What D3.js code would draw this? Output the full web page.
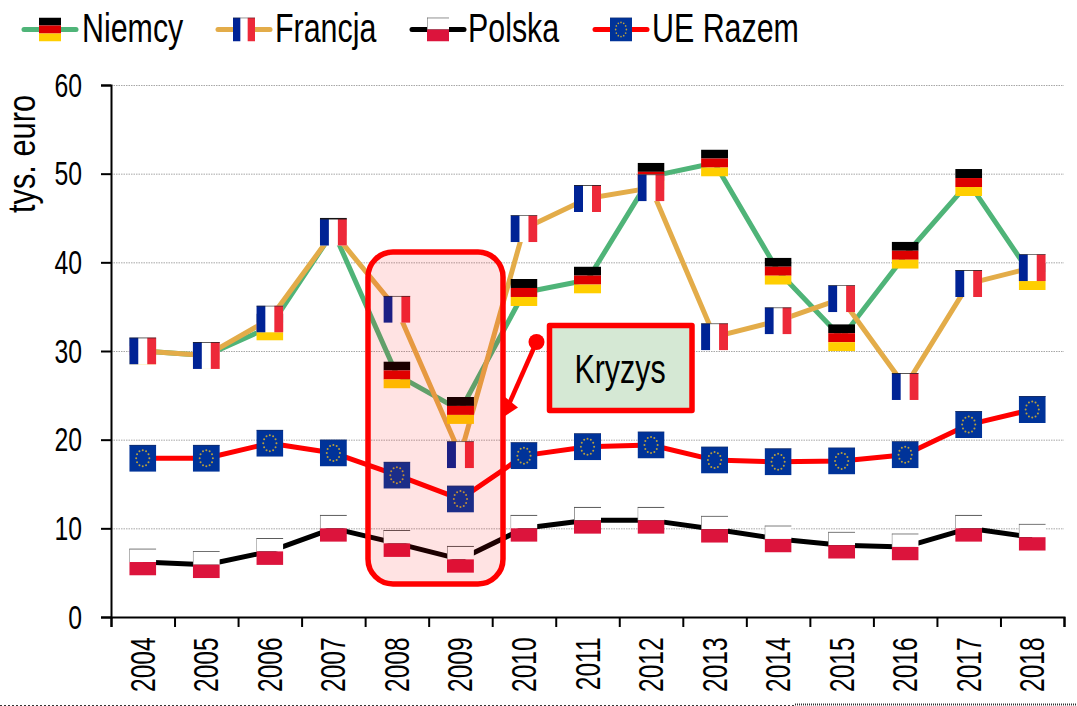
<!DOCTYPE html>
<html><head><meta charset="utf-8">
<script src="https://cdnjs.cloudflare.com/ajax/libs/d3/7.8.5/d3.min.js"></script>
<style>html,body{margin:0;padding:0;background:#fff;overflow:hidden}svg{display:block}text{font-family:"Liberation Sans",Arial,sans-serif;fill:#000}</style>
</head><body><svg id="c" width="1077" height="706"></svg>
<script>
const years = ["2004","2005","2006","2007","2008","2009","2010","2011","2012","2013","2014","2015","2016","2017","2018"];
const niemcy = [30,29.5,32.7,43.5,27.3,23.3,36.6,38,49.7,51.2,39,31.5,40.8,49,38.4];
const francja = [30,29.5,33.6,43.4,34.7,18.3,43.8,47.2,48.4,31.6,33.4,35.9,26,37.6,39.4];
const polska = [6.2,5.9,7.4,10,8.3,6.5,10,10.9,10.9,9.9,8.8,8.1,7.9,10,9];
const ueRazem = [17.9,17.9,19.6,18.5,16,13.3,18.2,19.2,19.4,17.7,17.5,17.6,18.3,21.7,23.4];
const yTicks = [0,10,20,30,40,50,60];
const seriesNames = ["Niemcy","Francja","Polska","UE Razem"];
const seriesColors = ["#4fb478","#e3ac49","#000000","#ff0000"];
const seriesFlags = ["de","fr","pl","eu"];
const seriesData = [niemcy,francja,polska,ueRazem];
const calloutText = "Kryzys";
const yLabel = "tys. euro";

const svg = d3.select("#c");
const x = d3.scaleBand().domain(years).range([111,1064]);
const y = d3.scaleLinear().domain([0,60]).range([617,85]);
const cx = d => x(d)+x.bandwidth()/2;

// flag symbols
const defs = svg.append("defs");
function flag(id,draw){const s=defs.append("symbol").attr("id",id).attr("viewBox","0 0 27 27").attr("preserveAspectRatio","none");draw(s);}
const R=(s,a,b,c,d,f)=>s.append("rect").attr("x",a).attr("y",b).attr("width",c).attr("height",d).attr("fill",f);
flag("de",s=>{R(s,0,0,27,9,"#000000");R(s,0,9,27,9,"#dd0000");R(s,0,18,27,9,"#ffce00");});
flag("fr",s=>{R(s,0,0,27,27,"#fff");R(s,0,0,9,27,"#002395");R(s,18,0,9,27,"#ed2939");R(s,0,0,27,.8,"#222");});
flag("pl",s=>{R(s,0,0,27,13.5,"#fff");R(s,0,13.5,27,13.5,"#dc143c");R(s,0,0,27,.8,"#111");R(s,0,0,.6,13.5,"#555");});
flag("eu",s=>{R(s,0,0,27,27,"#003399");R(s,0,0,27,.7,"#1a2a55");
  d3.range(12).forEach(i=>{const a=i*Math.PI/6;s.append("circle").attr("cx",13.5+6.6*Math.cos(a)).attr("cy",13.5+8*Math.sin(a)).attr("r",1).attr("fill","#b9a03c");});});

// grid
svg.append("g").selectAll("line").data(yTicks.filter(d=>d>0)).join("line")
  .attr("x1",111).attr("x2",1064).attr("y1",d=>y(d)+.5).attr("y2",d=>y(d)+.5)
  .attr("stroke","#a6a6a6").attr("stroke-width",1).attr("stroke-dasharray","1.5 1");

// axes
const yAxis = d3.axisLeft(y).tickValues(yTicks).tickSize(10).tickPadding(4);
const gy = svg.append("g").attr("transform","translate(111,0)").call(yAxis);
const xAxis = d3.axisBottom(d3.scaleLinear().domain([0,years.length]).range([111,1064])).ticks(years.length).tickFormat("").tickSize(10);
const gx = svg.append("g").attr("transform","translate(0,617)").call(xAxis);
[gx,gy].forEach(g=>{g.selectAll("path.domain").attr("stroke","#000").attr("stroke-width",2);g.selectAll(".tick line").attr("stroke","#000").attr("stroke-width",2);});
gy.selectAll(".tick text").remove();
svg.append("g").selectAll("text").data(yTicks).join("text")
  .attr("text-anchor","end").attr("transform",d=>`translate(82,${y(d)+11.5}) scale(.75,1)`)
  .attr("font-size",33).text(d=>d);
svg.append("g").selectAll("text").data(years).join("text")
  .attr("text-anchor","end")
  .attr("transform",d=>`translate(${cx(d)+12},637.5) rotate(-90) scale(.7,1)`)
  .attr("font-size",35).text(d=>d);
svg.append("text").attr("text-anchor","middle")
  .attr("transform","translate(35,154) rotate(-90) scale(.79,1)").attr("font-size",39).text(yLabel);

// series
const line = d3.line().x((d,i)=>cx(years[i])).y(d=>y(d));
const ms = 27;
seriesData.forEach((vals,k)=>{
  svg.append("path").attr("d",line(vals)).attr("fill","none").attr("stroke",seriesColors[k]).attr("stroke-width",5).attr("stroke-linejoin","round");
});
seriesData.forEach((vals,k)=>{
  svg.append("g").selectAll("use").data(vals).join("use")
    .attr("href","#"+seriesFlags[k]).attr("width",ms).attr("height",ms)
    .attr("x",(d,i)=>cx(years[i])-ms/2).attr("y",d=>y(d)-ms/2);
});

// legend
const legX=[23,217,411,594], legT=[82,275,468,652];
seriesNames.forEach((n,k)=>{
  const g=svg.append("g");
  g.append("line").attr("x1",legX[k]+1).attr("x2",legX[k]+53).attr("y1",29.5).attr("y2",29.5)
    .attr("stroke",seriesColors[k]).attr("stroke-width",5).attr("stroke-linecap","round");
  g.append("use").attr("href","#"+seriesFlags[k]).attr("x",legX[k]+16).attr("y",17.5).attr("width",22).attr("height",24);
  g.append("text").attr("transform",`translate(${legT[k]},42) scale(.76,1)`).attr("font-size",40).text(n);
});

// annotations
svg.append("rect").attr("x",368).attr("y",252).attr("width",135).attr("height",332).attr("rx",25)
  .attr("fill","#ff0000").attr("fill-opacity",.11).attr("stroke","#ff0000").attr("stroke-width",5.5);
svg.append("line").attr("x1",536.5).attr("y1",342).attr("x2",509).attr("y2",404).attr("stroke","#ff0000").attr("stroke-width",4.5);
svg.append("circle").attr("cx",536.5).attr("cy",342).attr("r",8).attr("fill","#ff0000");
svg.append("path").attr("d","M502 418 L505 397 L518 407.5 Z").attr("fill","#ff0000");
svg.append("rect").attr("x",549.5).attr("y",325.5).attr("width",142.5).attr("height",85)
  .attr("fill","#d5e8d4").attr("stroke","#ff0000").attr("stroke-width",5.5).attr("stroke-linejoin","round");
svg.append("text").attr("text-anchor","middle").attr("transform","translate(620,382.5) scale(.76,1)").attr("font-size",40).text(calloutText);

// bottom dotted rule
svg.append("line").attr("x1",795).attr("x2",1077).attr("y1",704.5).attr("y2",704.5).attr("stroke","#333").attr("stroke-width",2).attr("stroke-dasharray","1 1");
svg.append("line").attr("x1",0).attr("x2",795).attr("y1",705.5).attr("y2",705.5).attr("stroke","#333").attr("stroke-width",1).attr("stroke-dasharray","2 2");
</script></body></html>
